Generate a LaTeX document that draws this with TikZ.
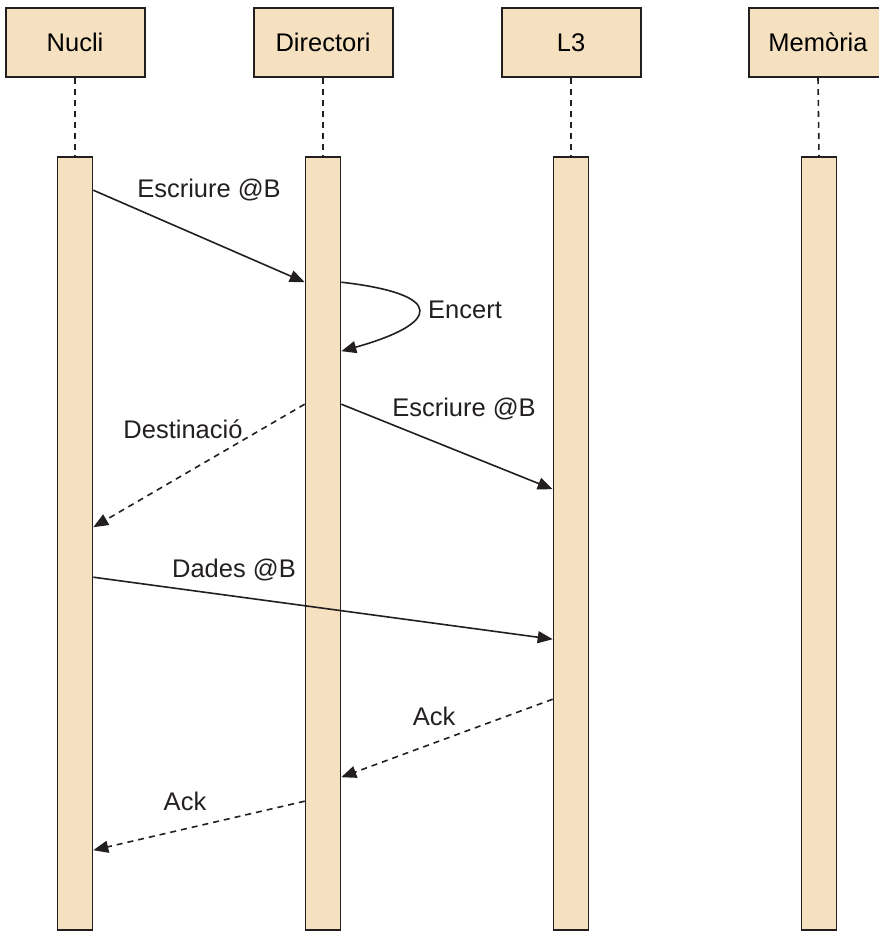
\documentclass[tikz,border=0pt]{standalone}
\usepackage{fontspec}
\setmainfont{Liberation Sans}
\usetikzlibrary{arrows.meta}
\definecolor{lbeige}{HTML}{F5E0C0}
\definecolor{ldark}{HTML}{231F20}

\begin{document}
\begin{tikzpicture}[
  x=1pt,y=-1pt,
  head/.style={draw=ldark,line width=2pt,fill=lbeige,minimum width=139pt,minimum height=69pt,
    font=\fontsize{25.5}{30}\selectfont,inner sep=0pt},
  bar/.style={draw=ldark,line width=1.6pt,fill=lbeige,minimum width=35pt,minimum height=773pt,inner sep=0pt},
  life/.style={draw=ldark,line width=1.6pt,dash pattern=on 6pt off 5pt},
  msg/.style={-{Triangle[length=15pt,width=12pt]},line width=1.6pt,ldark},
  ret/.style={msg,dash pattern=on 6pt off 5pt},
  lbl/.style={font=\fontsize{25.5}{30}\selectfont,text=ldark,inner sep=0pt}]
\useasboundingbox (0,0) rectangle (878,931);

% ---------- participants and their activation bars ----------
\node[head] (nucli) at (75,42.5)  {Nucli};
\node[head] (dir)   at (323,42.5) {Directori};
\node[head] (llc)   at (571,42.5) {L3};
\node[head] (mem)   at (818,42.5) {Memòria};

\node[bar] (nucliB) at (75,543.5)  {};
\node[bar] (dirB)   at (323,543.5) {};
\node[bar] (llcB)   at (571,543.5) {};
\node[bar] (memB)   at (819,543.5) {};

\foreach \p in {nucli,dir,llc,mem}
  \draw[life] (\p.south) -- (\p B.north);

% ---------- write request reaches the directory ----------
\draw[msg] ([yshift=-34pt]nucliB.north east) -- ([yshift=-126pt]dirB.north west);
\node[lbl] (m1) at (209,190) {Escriure @B};

% hit in the directory (self call)
\draw[msg] ([yshift=-126pt]dirB.north east)
  .. controls +(105,12) and +(100,-28) .. ([yshift=-195pt]dirB.north east);
\node[lbl] (m2) at (465,310) {Encert};

% ---------- directory answers the core and forwards to L3 ----------
\draw[ret] ([yshift=-248pt]dirB.north west) -- ([yshift=-371pt]nucliB.north east);
\node[lbl] (m3) at (183,429) {Destinació};

\draw[msg] ([yshift=-248pt]dirB.north east) -- ([yshift=-333pt]llcB.north west);
\node[lbl] (m4) at (464,409) {Escriure @B};

% ---------- data goes straight from the core to L3 ----------
\draw[msg] ([yshift=-421pt]nucliB.north east) -- ([yshift=-483pt]llcB.north west);
\node[lbl] (m5) at (234,570) {Dades @B};

% ---------- acknowledgements back ----------
\draw[ret] ([yshift=-543pt]llcB.north west) -- ([yshift=-621pt]dirB.north east);
\node[lbl] (m6) at (434,716) {Ack};

\draw[ret] ([yshift=-645pt]dirB.north west) -- ([yshift=-694pt]nucliB.north east);
\node[lbl] (m7) at (185,801) {Ack};
\end{tikzpicture}
\end{document}
